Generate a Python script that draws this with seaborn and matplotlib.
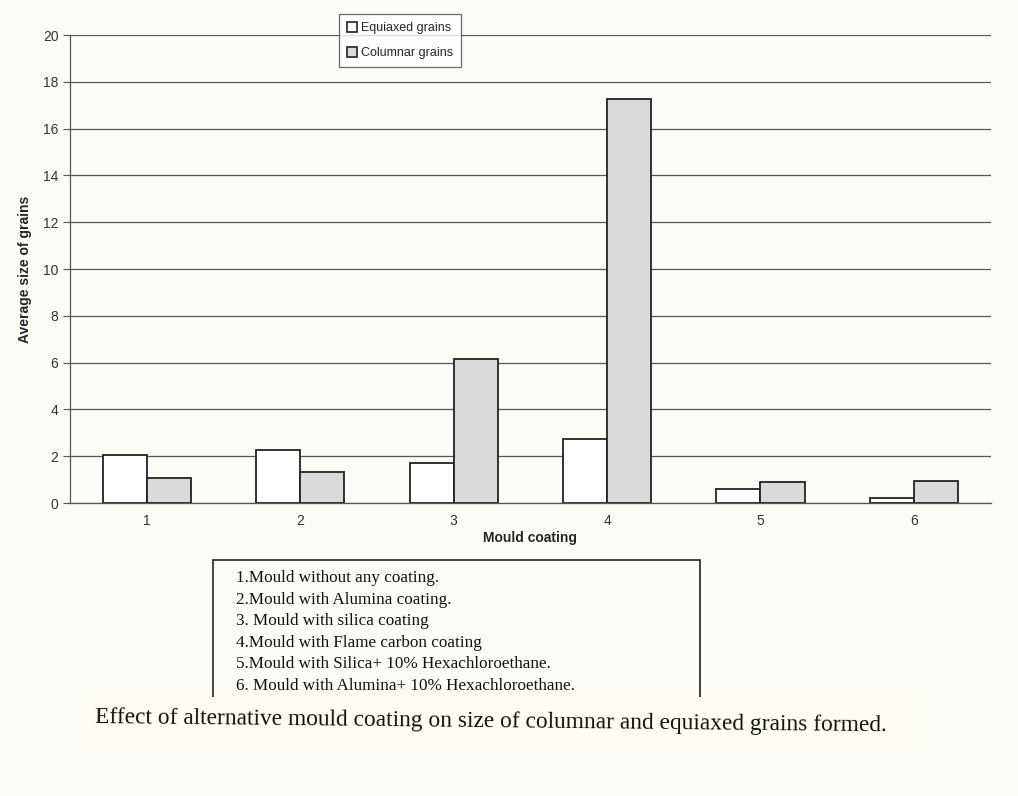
from matplotlib import pyplot as plt
from matplotlib.patches import Rectangle
import pandas as pd
import seaborn as sns

# Values
coatings = ["1", "2", "3", "4", "5", "6"]
equiaxed = [2.05, 2.28, 1.72, 2.72, 0.62, 0.22]
columnar = [1.06, 1.33, 6.15, 17.25, 0.88, 0.93]
series_names = ["Equiaxed grains", "Columnar grains"]
y_ticks = [0, 2, 4, 6, 8, 10, 12, 14, 16, 18, 20]
coating_notes = [
    "1.Mould without any coating.",
    "2.Mould with Alumina coating.",
    "3. Mould with silica coating",
    "4.Mould with Flame carbon coating",
    "5.Mould with Silica+ 10% Hexachloroethane.",
    "6. Mould with Alumina+ 10% Hexachloroethane.",
]
caption = "Effect of alternative mould coating on size of columnar and equiaxed grains formed."

df = pd.DataFrame({
    "coating": coatings * 2,
    "size": equiaxed + columnar,
    "series": [series_names[0]] * len(coatings) + [series_names[1]] * len(coatings),
})

sns.set_style("white")
plt.rcParams["font.family"] = ["Liberation Sans", "DejaVu Sans"]

paper = "#fcfbf6"
fig = plt.figure(figsize=(10.18, 7.96), dpi=100, facecolor=paper)
ax = fig.add_axes([0.069, 0.368, 0.904, 0.588])
ax.set_facecolor(paper)

sns.barplot(data=df, x="coating", y="size", hue="series", ax=ax,
            palette=["#ffffff", "#dadada"], edgecolor="#222222", linewidth=1.3,
            width=0.575, legend=False)

ax.set_ylim(0, 20)
ax.set_xlim(-0.5, len(coatings) - 0.5)
ax.set_yticks(y_ticks)
ax.set_axisbelow(True)
ax.grid(axis="y", color="#555555", linewidth=0.9)
for s in ["top", "right"]:
    ax.spines[s].set_visible(False)
for s in ["left", "bottom"]:
    ax.spines[s].set_color("#555555")
    ax.spines[s].set_linewidth(0.9)

ax.set_xticks([i + 0.5 for i in range(len(coatings) - 1)], minor=True)
ax.tick_params(axis="x", which="major", length=0, pad=8, labelsize=10, colors="#333333")
ax.tick_params(axis="x", which="minor", length=4, direction="out", color="#555555")
ax.tick_params(axis="y", length=5, direction="out", color="#555555", labelsize=10,
               colors="#333333", left=True)

ax.set_xlabel("Mould coating", fontsize=10, fontweight="bold", labelpad=2)
ax.set_ylabel("Average size of grains", fontsize=10, fontweight="bold", labelpad=8)

handles = [Rectangle((0, 0), 1, 1, facecolor=c, edgecolor="#222222", linewidth=1.2)
           for c in ["#ffffff", "#dadada"]]
leg = fig.legend(handles, series_names, loc="upper left",
                 bbox_to_anchor=(333 / 1018, 1 - 8 / 796), fontsize=9,
                 frameon=True, fancybox=False, edgecolor="#444444",
                 handlelength=0.8, handleheight=0.8, handletextpad=0.3,
                 labelspacing=1.0, borderpad=0.65)
leg.get_frame().set_facecolor("#ffffff")
leg.get_frame().set_linewidth(0.9)

# box with the coating descriptions
fig.patches.append(Rectangle((213 / 1018, 1 - 698 / 796), 487 / 1018, 138 / 796,
                             transform=fig.transFigure, fill=False,
                             edgecolor="#222222", linewidth=1.2))
for i, note in enumerate(coating_notes):
    fig.text(236 / 1018, 1 - (578 + i * 21.6) / 796, note, fontsize=12.3,
             family=["Liberation Serif", "DejaVu Serif"], va="center", color="#111111")

fig.patches.append(Rectangle((88 / 1018, 1 - 745 / 796), 830 / 1018, 48 / 796,
                             transform=fig.transFigure, facecolor="#fffdf3",
                             edgecolor="none"))
fig.text(95 / 1018, 1 - 722 / 796, caption, fontsize=16.8, rotation=-0.6,
         family=["Liberation Serif", "DejaVu Serif"], va="center", color="#111111")

fig.savefig("out.png", dpi=100, facecolor=paper)
